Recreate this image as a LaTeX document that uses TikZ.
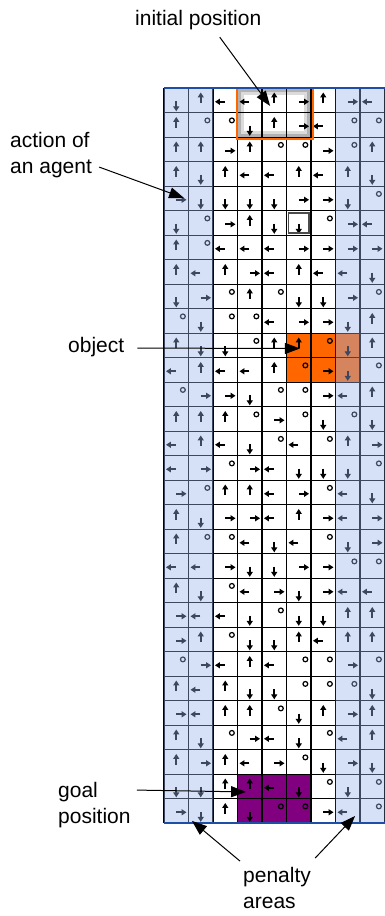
\documentclass[tikz,border=0pt]{standalone}
\usepackage{fontspec}
\setmainfont{Liberation Sans}
\usetikzlibrary{arrows.meta}

\definecolor{objorange}{RGB}{255,102,0}
\definecolor{goalpurple}{RGB}{128,0,128}
\definecolor{penblue}{rgb}{0.6,0.7,0.925}
\definecolor{rimblue}{RGB}{30,78,165}

% one move per cell, #1 = column, #2 = row
\newcommand{\mvU}[2]{\draw[move] (#1+0.5,#2+0.6) -- (#1+0.5,#2+0.17);}
\newcommand{\mvD}[2]{\draw[move] (#1+0.5,#2+0.52) -- (#1+0.5,#2+0.94);}
\newcommand{\mvR}[2]{\draw[move] (#1+0.5,#2+0.55) -- (#1+0.92,#2+0.55);}
\newcommand{\mvL}[2]{\draw[move] (#1+0.48,#2+0.55) -- (#1+0.08,#2+0.55);}
\newcommand{\mvO}[2]{\draw[stay] (#1+0.77,#2+0.31) circle[radius=2.4pt];}

\begin{document}
\begin{tikzpicture}[
    x=1pt, y=-1pt,
    note/.style={
        font=\fontsize{21}{26}\selectfont,
        inner sep=0pt,
        align=left,
        anchor=base west
    },
    pointer/.style={
        -{Triangle[length=15pt,width=11pt]},
        line width=1pt
    },
    move/.style={
        -{Triangle[length=5pt,width=6pt]},
        line width=1.7pt
    },
    stay/.style={
        line width=1.2pt
    },
    gridline/.style={
        line width=1.3pt
    }
]
\useasboundingbox (0,0) rectangle (385,916);

% Grid world, one unit = one cell
\begin{scope}[shift={(164,88.3)}, x=24.5pt, y=-24.5pt]
    \fill[white] (0,0) rectangle (9,30);
    \fill[objorange] (5,10) rectangle (8,12);
    \fill[goalpurple] (3,28) rectangle (6,30);

    % frame of the initial position
    \draw[gray!60, line width=3pt] (3.09,0.09) rectangle (5.91,1.91);
    \draw[gray!28, line width=3pt] (3.21,0.21) rectangle (5.79,1.79);

    \foreach \col in {0,...,9} \draw[gridline] (\col,0) -- (\col,30);
    \foreach \row in {0,...,30} \draw[gridline] (0,\row) -- (9,\row);

    % actions
    \foreach \cells [count=\row from 0] in {
        {D,U,L,L,U,R,U,R,L},
        {U,O,O,D,U,R,L,O,O},
        {U,U,R,U,O,O,R,O,U},
        {U,D,U,L,L,U,L,U,D},
        {R,D,D,D,D,R,R,D,O},
        {D,O,R,U,D,D,O,R,L},
        {U,O,L,L,L,R,R,R,R},
        {U,L,U,R,L,U,L,L,D},
        {D,R,O,U,O,D,D,R,O},
        {O,D,O,O,L,R,R,D,U},
        {U,D,D,O,U,U,O,D,U},
        {L,U,L,L,U,O,R,D,O},
        {O,R,R,D,O,O,R,L,U},
        {U,U,U,O,R,O,D,O,D},
        {L,U,L,D,O,L,O,U,R},
        {L,R,O,R,L,D,D,D,O},
        {R,O,U,U,L,R,O,L,D},
        {U,D,R,R,L,U,R,L,R},
        {U,O,O,L,D,L,O,D,R},
        {L,L,R,D,D,R,R,O,O},
        {U,D,O,L,R,D,R,L,L},
        {R,L,L,D,O,D,D,U,U},
        {R,U,O,D,D,U,L,U,U},
        {O,R,L,U,L,O,O,R,O},
        {U,L,U,D,D,O,O,O,D},
        {R,L,U,U,O,D,U,R,U},
        {U,D,O,R,L,D,O,L,U},
        {U,R,U,L,R,O,D,R,D},
        {D,D,U,U,L,D,O,D,O},
        {R,D,U,D,O,O,R,L,O}} {
        \foreach \a [count=\col from 0] in \cells {\csname mv\a\endcsname{\col}{\row}}
    }

    % penalty areas
    \fill[penblue, opacity=0.4] (0,0) rectangle (2,30) (7,0) rectangle (9,30);

    \draw[objorange, line width=1.8pt] (2.97,-0.02) rectangle (6.07,2.08);
    \draw[gray!60!black, line width=1.8pt] (5.08,5.08) rectangle (5.92,5.92);
    \draw[rimblue, line width=2pt] (0,0) -- (9,0) (0,30) -- (9,30);

    \coordinate (initpos) at (4.33,0.72);
    \coordinate (agentact) at (0.82,4.48);
    \coordinate (objpos) at (5.55,10.62);
    \coordinate (goalpos) at (3.35,28.72);
    \coordinate (penleft) at (1.14,29.9);
    \coordinate (penright) at (7.8,29.7);
\end{scope}

% Labels
\node[note] (initlbl) at (135,25) {initial position};
\node[note] (agentlbl) at (10,173) {action of\\an agent};
\node[note] (objlbl) at (68,352) {object};
\node[note] (goallbl) at (58,823) {goal\\position};
\node[note] (penlbl) at (243,908) {penalty\\areas};

\draw[pointer] ([shift={(21.5,7.6)}]initlbl.south) -- (initpos);
\draw[pointer] ([shift={(7,12.5)}]agentlbl.east) -- (agentact);
\draw[pointer] ([shift={(13,1.5)}]objlbl.east) -- (objpos);
\draw[pointer] ([shift={(6,-14.5)}]goallbl.east) -- (goalpos);
\draw[pointer] ([shift={(-3,-5.5)}]penlbl.north west) -- (penleft);
\draw[pointer] ([shift={(4,-8.5)}]penlbl.north east) -- (penright);

\end{tikzpicture}
\end{document}
